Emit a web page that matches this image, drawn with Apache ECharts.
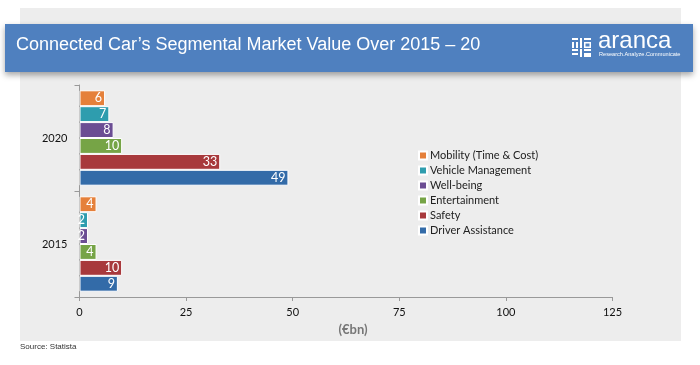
<!DOCTYPE html>
<html><head><meta charset="utf-8">
<script src="https://cdn.jsdelivr.net/npm/echarts@6/dist/echarts.min.js"></script>
<style>html,body{margin:0;padding:0;background:#fff}#c{width:700px;height:365px}</style>
</head><body><div id="c"></div>
<script>
const categories = ['2015', '2020'];
const seriesNames = ['Mobility (Time & Cost)', 'Vehicle Management', 'Well-being', 'Entertainment', 'Safety', 'Driver Assistance'];
const mobility = [4, 6];
const vehicleManagement = [2, 7];
const wellBeing = [2, 8];
const entertainment = [4, 10];
const safety = [10, 33];
const driverAssistance = [9, 49];
const xTicks = [0, 25, 50, 75, 100, 125];
const colors = ['#E5803A', '#2E9DAE', '#6B4D93', '#76A446', '#A8393C', '#336BA8'];
const values = [mobility, vehicleManagement, wellBeing, entertainment, safety, driverAssistance];

const chart = echarts.init(document.getElementById('c'));
const series = seriesNames.map((n, i) => ({
  name: n, type: 'bar', data: values[i], barGap: 0, barCategoryGap: '10%',
  itemStyle: { color: colors[i], borderColor: '#fff', borderWidth: 1 },
  label: { show: true, position: 'insideRight', color: '#fff', fontSize: 12.5, fontFamily: 'Lato', distance: 3 },
  z: 3
}));

const W = '#fff';
const iconRects = [
  [0, 0, 6, 2], [0, 4, 2, 6], [4, 4, 2, 6], [8, 0, 2, 10], [12, 0, 7, 2],
  [8, 11, 2, 8], [12, 11, 7, 2], [12, 15, 7, 4], [0, 11, 6, 2], [0, 15, 6, 2]
];
const iconEls = iconRects.map(r => ({ type: 'rect', z: 12, silent: true,
  shape: { x: 572 + r[0], y: 38 + r[1], width: r[2], height: r[3] }, style: { fill: W } }));
iconEls.push({ type: 'rect', z: 12, silent: true, shape: { x: 12.75 + 572, y: 4.75 + 38, width: 5.5, height: 4.5 }, style: { fill: 'none', stroke: W, lineWidth: 1.5 } });

chart.setOption({
  animation: false,
  backgroundColor: '#fff',
  color: colors,
  grid: { left: 79.5, right: 87.5, top: 85, bottom: 68 },
  legend: {
    orient: 'vertical', left: 413, top: 145, itemWidth: 8, itemHeight: 8, itemGap: 4,
    icon: 'rect', data: seriesNames,
    textStyle: { fontSize: 11, color: '#222', fontFamily: 'Lato', padding: [0, 0, 0, -2] }
  },
  xAxis: {
    type: 'value', min: 0, max: 125, interval: 25,
    axisLine: { show: true, lineStyle: { color: '#999' } },
    axisTick: { show: true, length: 4, lineStyle: { color: '#999' } },
    splitLine: { show: false },
    axisLabel: { color: '#111', fontSize: 11, fontFamily: 'Lato', margin: 10,
      formatter: v => xTicks.includes(v) ? String(v) : '' },
    name: '(€bn)', nameLocation: 'middle', nameGap: 24,
    nameTextStyle: { color: '#777', fontSize: 13, fontWeight: 'bold', fontFamily: 'Lato', padding: [0, 0, 0, 14] }
  },
  yAxis: {
    type: 'category', data: categories,
    axisLine: { show: true, lineStyle: { color: '#999' } },
    axisTick: { show: true, length: 5, lineStyle: { color: '#999' } },
    axisLabel: { color: '#111', fontSize: 11, fontFamily: 'Lato', margin: 12 }
  },
  graphic: [
    { type: 'rect', z: -10, silent: true, shape: { x: 20, y: 8, width: 661, height: 333 }, style: { fill: '#EDEDED' } },
    { type: 'rect', z: 10, silent: true, shape: { x: 5, y: 24, width: 688, height: 48 },
      style: { fill: '#4F80BF', shadowBlur: 6, shadowOffsetY: 3, shadowColor: 'rgba(0,0,0,0.35)' } },
    { type: 'text', z: 11, left: 16, top: 36, style: { text: 'Connected Car\u2019s Segmental Market Value Over 2015 \u2013 20', fill: '#fff', fontSize: 18, fontFamily: 'Liberation Sans' } },
    { type: 'text', z: 11, left: 598, top: 29, style: { text: 'aranca', fill: '#fff', fontSize: 24, fontFamily: 'Liberation Sans' } },
    { type: 'text', z: 11, left: 599, top: 51, style: { text: 'Research.Analyze.Communicate', fill: '#fff', fontSize: 5.6, fontFamily: 'Liberation Sans' } },
    ...iconEls,
    { type: 'text', left: 20, top: 343, style: { text: 'Source: Statista', fill: '#333', fontSize: 8, fontFamily: 'Liberation Sans' } }
  ],
  series
});
</script></body></html>
